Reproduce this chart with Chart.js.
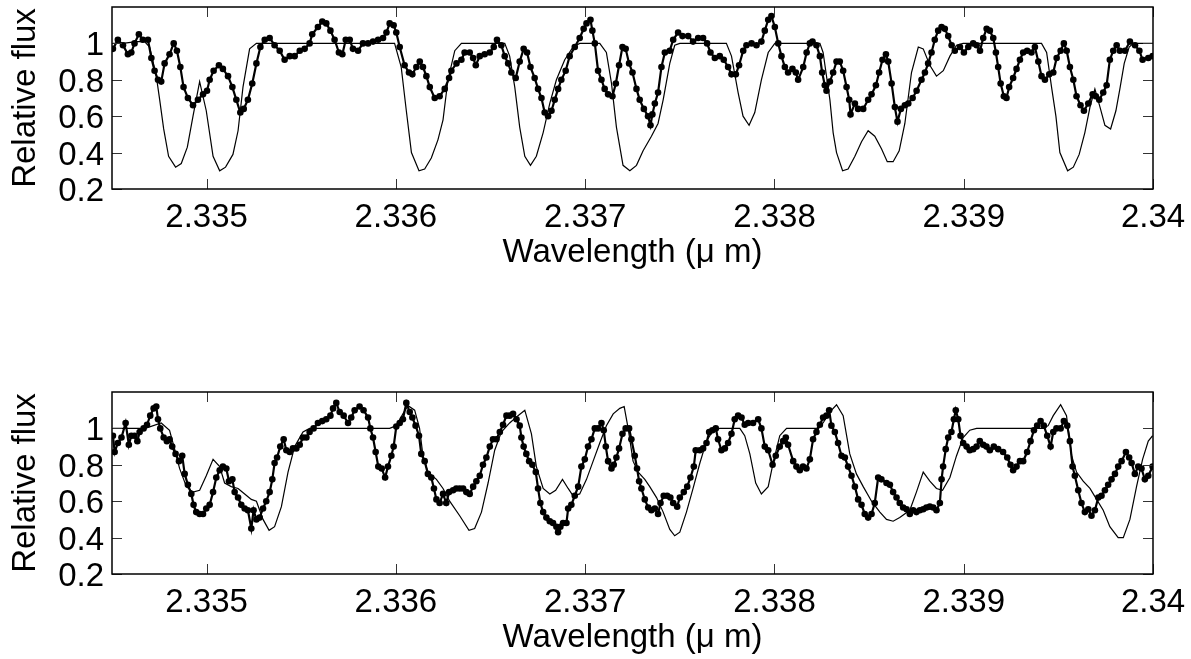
<!DOCTYPE html>
<html>
<head>
<meta charset="utf-8">
<script src="https://cdn.jsdelivr.net/npm/chart.js@4/dist/chart.umd.min.js"></script>
<style>
  html, body { margin: 0; padding: 0; background: #fff; }
  #wrap { position: relative; width: 1191px; height: 659px; }
  canvas { position: absolute; left: 0; }
  #top { top: 0; }
  #bottom { top: 385px; }
</style>
</head>
<body>
<div id="wrap">
  <canvas id="top" width="1191" height="274"></canvas>
  <canvas id="bottom" width="1191" height="274"></canvas>
</div>
<script>
// axis ticks
const xTicks = [2.335, 2.336, 2.337, 2.338, 2.339, 2.34];
const xTickLabels = ['2.335', '2.336', '2.337', '2.338', '2.339', '2.34'];
const yTicks = [0.2, 0.4, 0.6, 0.8, 1];
const yTickLabels = ['0.2', '0.4', '0.6', '0.8', '1'];

// upper panel: observed spectrum
const topObsWave = [
  2.334505, 2.334531, 2.334558, 2.334584, 2.334602, 2.334619, 2.334642, 2.334663, 2.334690, 2.334708,
  2.334725, 2.334743, 2.334760, 2.334778, 2.334804, 2.334826, 2.334843, 2.334861, 2.334878, 2.334901,
  2.334928, 2.334954, 2.334981, 2.335002, 2.335016, 2.335037, 2.335065, 2.335086, 2.335113, 2.335136,
  2.335157, 2.335178, 2.335196, 2.335218, 2.335241, 2.335263, 2.335284, 2.335307, 2.335333, 2.335359,
  2.335386, 2.335412, 2.335439, 2.335465, 2.335492, 2.335518, 2.335544, 2.335558, 2.335588, 2.335611,
  2.335632, 2.335654, 2.335676, 2.335699, 2.335717, 2.335735, 2.335756, 2.335773, 2.335800, 2.335826,
  2.335853, 2.335879, 2.335906, 2.335932, 2.335950, 2.335967, 2.335988, 2.336002, 2.336020, 2.336046,
  2.336069, 2.336087, 2.336108, 2.336126, 2.336143, 2.336161, 2.336179, 2.336205, 2.336231, 2.336258,
  2.336281, 2.336293, 2.336320, 2.336346, 2.336363, 2.336390, 2.336408, 2.336422, 2.336443, 2.336469,
  2.336496, 2.336517, 2.336534, 2.336557, 2.336575, 2.336593, 2.336610, 2.336633, 2.336654, 2.336675,
  2.336693, 2.336711, 2.336733, 2.336751, 2.336769, 2.336786, 2.336804, 2.336822, 2.336839, 2.336857,
  2.336874, 2.336897, 2.336918, 2.336945, 2.336971, 2.336992, 2.337007, 2.337028, 2.337038, 2.337051,
  2.337068, 2.337086, 2.337103, 2.337121, 2.337144, 2.337162, 2.337179, 2.337197, 2.337214, 2.337232,
  2.337250, 2.337271, 2.337288, 2.337310, 2.337332, 2.337345, 2.337355, 2.337368, 2.337385, 2.337403,
  2.337421, 2.337447, 2.337465, 2.337491, 2.337514, 2.337544, 2.337570, 2.337597, 2.337623, 2.337644,
  2.337662, 2.337685, 2.337711, 2.337732, 2.337755, 2.337773, 2.337796, 2.337813, 2.337835, 2.337852,
  2.337879, 2.337905, 2.337931, 2.337949, 2.337967, 2.337984, 2.338002, 2.338020, 2.338037, 2.338055,
  2.338072, 2.338095, 2.338113, 2.338125, 2.338152, 2.338170, 2.338187, 2.338201, 2.338222, 2.338240,
  2.338252, 2.338266, 2.338275, 2.338293, 2.338310, 2.338328, 2.338345, 2.338363, 2.338381, 2.338395,
  2.338402, 2.338425, 2.338442, 2.338469, 2.338495, 2.338513, 2.338536, 2.338553, 2.338571, 2.338589,
  2.338601, 2.338619, 2.338636, 2.338650, 2.338668, 2.338689, 2.338707, 2.338730, 2.338751, 2.338777,
  2.338795, 2.338812, 2.338830, 2.338847, 2.338865, 2.338883, 2.338900, 2.338918, 2.338936, 2.338953,
  2.338980, 2.339001, 2.339024, 2.339050, 2.339068, 2.339086, 2.339103, 2.339121, 2.339138, 2.339156,
  2.339170, 2.339182, 2.339195, 2.339212, 2.339226, 2.339240, 2.339261, 2.339279, 2.339297, 2.339314,
  2.339335, 2.339358, 2.339376, 2.339394, 2.339411, 2.339429, 2.339452, 2.339473, 2.339491, 2.339512,
  2.339529, 2.339544, 2.339561, 2.339579, 2.339596, 2.339617, 2.339635, 2.339658, 2.339681, 2.339698,
  2.339716, 2.339737, 2.339755, 2.339772, 2.339790, 2.339808, 2.339825, 2.339852, 2.339878, 2.339905,
  2.339928, 2.339945, 2.339975, 2.339998
];
const topObsFlux = [
  0.97, 1.02, 0.99, 0.94, 0.95, 1.00, 1.05, 1.02, 1.02, 0.92,
  0.85, 0.80, 0.79, 0.89, 0.94, 1.00, 0.96, 0.87, 0.76, 0.70,
  0.66, 0.69, 0.72, 0.74, 0.80, 0.85, 0.88, 0.86, 0.82, 0.76,
  0.69, 0.62, 0.64, 0.69, 0.78, 0.89, 0.98, 1.02, 1.03, 0.99,
  0.96, 0.91, 0.93, 0.93, 0.96, 0.97, 1.00, 1.05, 1.09, 1.12,
  1.11, 1.07, 1.02, 0.95, 0.94, 1.02, 1.02, 0.97, 0.96, 1.00,
  1.00, 1.01, 1.02, 1.03, 1.06, 1.11, 1.10, 1.06, 0.98, 0.88,
  0.84, 0.83, 0.87, 0.90, 0.87, 0.82, 0.76, 0.70, 0.71, 0.75,
  0.81, 0.85, 0.89, 0.91, 0.95, 0.95, 0.92, 0.88, 0.93, 0.94,
  0.95, 0.98, 1.02, 0.99, 0.93, 0.89, 0.84, 0.81, 0.90, 0.97,
  0.95, 0.87, 0.81, 0.75, 0.70, 0.62, 0.60, 0.63, 0.69, 0.75,
  0.80, 0.85, 0.93, 0.98, 1.03, 1.08, 1.11, 1.13, 1.07, 1.00,
  0.85, 0.80, 0.75, 0.72, 0.71, 0.78, 0.88, 0.98, 0.97, 0.89,
  0.84, 0.75, 0.69, 0.64, 0.60, 0.55, 0.61, 0.67, 0.73, 0.87,
  0.95, 0.96, 1.02, 1.06, 1.04, 1.04, 1.01, 1.03, 1.03, 1.00,
  0.95, 0.92, 0.93, 0.91, 0.87, 0.83, 0.83, 0.88, 0.96, 0.99,
  1.00, 0.99, 1.01, 1.07, 1.13, 1.15, 1.09, 1.00, 0.93, 0.87,
  0.84, 0.86, 0.84, 0.80, 0.87, 0.95, 1.00, 1.01, 0.99, 0.93,
  0.84, 0.77, 0.74, 0.79, 0.84, 0.90, 0.90, 0.85, 0.76, 0.69,
  0.61, 0.67, 0.64, 0.64, 0.69, 0.72, 0.77, 0.84, 0.91, 0.94,
  0.90, 0.78, 0.65, 0.57, 0.64, 0.66, 0.67, 0.70, 0.74, 0.80,
  0.84, 0.89, 0.95, 1.02, 1.07, 1.09, 1.08, 1.04, 0.99, 0.96,
  0.98, 0.95, 0.98, 1.00, 0.99, 0.96, 1.03, 1.08, 1.07, 1.03,
  0.95, 0.87, 0.78, 0.71, 0.70, 0.76, 0.81, 0.86, 0.91, 0.95,
  0.96, 0.95, 0.98, 0.90, 0.82, 0.80, 0.83, 0.84, 0.92, 0.96,
  1.00, 0.96, 0.87, 0.80, 0.71, 0.66, 0.63, 0.67, 0.72, 0.71,
  0.69, 0.73, 0.77, 0.91, 0.96, 0.99, 0.96, 0.96, 1.01, 0.99,
  0.96, 0.91, 0.92, 0.93
];

// upper panel: model spectrum
const topModelWave = [
  2.334505, 2.334558, 2.334628, 2.334672, 2.334699, 2.334734, 2.334752, 2.334773, 2.334799, 2.334836,
  2.334866, 2.334898, 2.334928, 2.334963, 2.334998, 2.335034, 2.335069, 2.335100, 2.335139, 2.335166,
  2.335192, 2.335227, 2.335263, 2.335993, 2.336028, 2.336055, 2.336082, 2.336122, 2.336152, 2.336187,
  2.336222, 2.336249, 2.336275, 2.336311, 2.336346, 2.336575, 2.336601, 2.336628, 2.336654, 2.336681,
  2.336711, 2.336742, 2.336778, 2.336813, 2.336848, 2.336892, 2.336936, 2.336971, 2.337077, 2.337112,
  2.337139, 2.337165, 2.337200, 2.337236, 2.337271, 2.337306, 2.337350, 2.337385, 2.337412, 2.337447,
  2.337473, 2.337500, 2.337746, 2.337773, 2.337808, 2.337834, 2.337866, 2.337896, 2.337931, 2.337967,
  2.338002, 2.338240, 2.338257, 2.338293, 2.338310, 2.338328, 2.338360, 2.338389, 2.338425, 2.338460,
  2.338495, 2.338530, 2.338566, 2.338596, 2.338627, 2.338659, 2.338689, 2.338724, 2.338760, 2.338786,
  2.338821, 2.338856, 2.338892, 2.338927, 2.338962, 2.338997, 2.339411, 2.339438, 2.339464, 2.339487,
  2.339508, 2.339549, 2.339579, 2.339610, 2.339640, 2.339667, 2.339693, 2.339720, 2.339746, 2.339776,
  2.339804, 2.339825, 2.339848, 2.339874, 2.339896, 2.340000
];
const topModelFlux = [
  1.00, 1.00, 1.01, 1.01, 0.98, 0.82, 0.69, 0.53, 0.38, 0.32,
  0.34, 0.43, 0.60, 0.79, 0.63, 0.38, 0.30, 0.32, 0.39, 0.52,
  0.76, 0.97, 1.00, 1.00, 0.87, 0.63, 0.40, 0.30, 0.31, 0.37,
  0.47, 0.58, 0.80, 0.96, 1.00, 1.00, 0.93, 0.76, 0.54, 0.38,
  0.33, 0.38, 0.51, 0.67, 0.80, 0.91, 0.98, 1.00, 1.00, 0.95,
  0.78, 0.54, 0.33, 0.30, 0.33, 0.41, 0.49, 0.56, 0.69, 0.89,
  0.99, 1.00, 1.00, 0.93, 0.73, 0.60, 0.55, 0.62, 0.80, 0.95,
  1.00, 1.00, 0.95, 0.69, 0.51, 0.40, 0.30, 0.31, 0.38, 0.46,
  0.52, 0.49, 0.42, 0.35, 0.35, 0.41, 0.56, 0.84, 0.98, 0.97,
  0.88, 0.82, 0.85, 0.93, 0.99, 1.00, 1.00, 0.95, 0.76, 0.60,
  0.40, 0.30, 0.32, 0.39, 0.51, 0.65, 0.75, 0.65, 0.55, 0.53,
  0.63, 0.75, 0.89, 0.98, 1.00, 1.00
];

// lower panel: observed spectrum
const botObsWave = [
  2.334505, 2.334514, 2.334531, 2.334550, 2.334572, 2.334589, 2.334602, 2.334619, 2.334634, 2.334646,
  2.334667, 2.334685, 2.334702, 2.334720, 2.334734, 2.334743, 2.334755, 2.334773, 2.334790, 2.334804,
  2.334818, 2.334836, 2.334854, 2.334871, 2.334884, 2.334901, 2.334919, 2.334931, 2.334945, 2.334963,
  2.334981, 2.334998, 2.335016, 2.335034, 2.335051, 2.335069, 2.335086, 2.335104, 2.335118, 2.335136,
  2.335148, 2.335166, 2.335183, 2.335201, 2.335218, 2.335236, 2.335248, 2.335263, 2.335280, 2.335298,
  2.335315, 2.335333, 2.335347, 2.335359, 2.335372, 2.335389, 2.335407, 2.335421, 2.335439, 2.335456,
  2.335474, 2.335492, 2.335509, 2.335527, 2.335544, 2.335565, 2.335588, 2.335611, 2.335632, 2.335654,
  2.335668, 2.335685, 2.335703, 2.335724, 2.335747, 2.335764, 2.335782, 2.335808, 2.335829, 2.335853,
  2.335865, 2.335879, 2.335893, 2.335907, 2.335925, 2.335943, 2.335958, 2.335976, 2.335988, 2.336002,
  2.336020, 2.336037, 2.336055, 2.336073, 2.336087, 2.336104, 2.336122, 2.336134, 2.336152, 2.336169,
  2.336187, 2.336201, 2.336214, 2.336231, 2.336249, 2.336266, 2.336281, 2.336302, 2.336319, 2.336337,
  2.336355, 2.336372, 2.336390, 2.336408, 2.336425, 2.336443, 2.336460, 2.336478, 2.336496, 2.336513,
  2.336531, 2.336549, 2.336566, 2.336584, 2.336601, 2.336619, 2.336637, 2.336654, 2.336663, 2.336675,
  2.336689, 2.336704, 2.336721, 2.336739, 2.336751, 2.336763, 2.336778, 2.336795, 2.336813, 2.336830,
  2.336848, 2.336857, 2.336869, 2.336883, 2.336901, 2.336910, 2.336927, 2.336945, 2.336963, 2.336980,
  2.336998, 2.337015, 2.337033, 2.337051, 2.337068, 2.337086, 2.337098, 2.337109, 2.337121, 2.337139,
  2.337151, 2.337165, 2.337179, 2.337197, 2.337214, 2.337232, 2.337244, 2.337262, 2.337274, 2.337285,
  2.337297, 2.337315, 2.337333, 2.337350, 2.337368, 2.337385, 2.337398, 2.337415, 2.337433, 2.337450,
  2.337465, 2.337486, 2.337500, 2.337521, 2.337539, 2.337556, 2.337574, 2.337584, 2.337606, 2.337623,
  2.337641, 2.337655, 2.337672, 2.337690, 2.337702, 2.337720, 2.337738, 2.337755, 2.337773, 2.337790,
  2.337808, 2.337826, 2.337843, 2.337861, 2.337887, 2.337914, 2.337931, 2.337949, 2.337967, 2.337990,
  2.338007, 2.338028, 2.338046, 2.338060, 2.338072, 2.338099, 2.338116, 2.338134, 2.338151, 2.338169,
  2.338187, 2.338204, 2.338222, 2.338240, 2.338257, 2.338275, 2.338289, 2.338301, 2.338319, 2.338336,
  2.338354, 2.338372, 2.338389, 2.338407, 2.338425, 2.338442, 2.338460, 2.338477, 2.338495, 2.338513,
  2.338530, 2.338548, 2.338565, 2.338592, 2.338610, 2.338627, 2.338645, 2.338662, 2.338680, 2.338698,
  2.338715, 2.338733, 2.338750, 2.338768, 2.338786, 2.338803, 2.338821, 2.338839, 2.338856, 2.338874,
  2.338883, 2.338891, 2.338905, 2.338918, 2.338935, 2.338948, 2.338958, 2.338971, 2.338983, 2.338997,
  2.339015, 2.339032, 2.339050, 2.339068, 2.339085, 2.339103, 2.339120, 2.339138, 2.339159, 2.339182,
  2.339208, 2.339230, 2.339247, 2.339261, 2.339279, 2.339297, 2.339314, 2.339335, 2.339353, 2.339371,
  2.339388, 2.339406, 2.339423, 2.339441, 2.339459, 2.339473, 2.339490, 2.339512, 2.339529, 2.339547,
  2.339561, 2.339575, 2.339587, 2.339605, 2.339622, 2.339640, 2.339658, 2.339675, 2.339693, 2.339711,
  2.339728, 2.339746, 2.339763, 2.339781, 2.339799, 2.339816, 2.339834, 2.339857, 2.339874, 2.339887,
  2.339904, 2.339922, 2.339939, 2.339957, 2.339975, 2.339998
];
const botObsFlux = [
  0.96, 0.87, 0.92, 0.95, 1.03, 0.91, 0.96, 0.96, 0.93, 0.98,
  1.00, 1.02, 1.07, 1.11, 1.12, 1.05, 1.00, 0.95, 0.93, 0.94,
  0.90, 0.86, 0.82, 0.85, 0.75, 0.69, 0.64, 0.58, 0.54, 0.53,
  0.53, 0.56, 0.58, 0.65, 0.73, 0.77, 0.79, 0.78, 0.71, 0.72,
  0.65, 0.62, 0.58, 0.56, 0.55, 0.45, 0.55, 0.50, 0.51, 0.56,
  0.60, 0.65, 0.72, 0.81, 0.84, 0.90, 0.94, 0.88, 0.87, 0.89,
  0.89, 0.91, 0.95, 0.95, 0.98, 1.00, 1.03, 1.04, 1.05, 1.07,
  1.11, 1.14, 1.09, 1.07, 1.03, 1.06, 1.10, 1.12, 1.10, 1.06,
  1.00, 0.95, 0.87, 0.79, 0.78, 0.73, 0.79, 0.85, 0.90, 1.01,
  1.03, 1.05, 1.14, 1.09, 1.06, 1.015, 0.96, 0.86, 0.82, 0.75,
  0.73, 0.67, 0.61, 0.59, 0.64, 0.59, 0.65, 0.66, 0.67, 0.67,
  0.67, 0.65, 0.64, 0.68, 0.71, 0.74, 0.80, 0.84, 0.90, 0.94,
  0.94, 0.98, 1.02, 1.07, 1.07, 1.08, 1.05, 1.015, 0.95, 0.90,
  0.86, 0.82, 0.80, 0.76, 0.67, 0.59, 0.54, 0.51, 0.49, 0.48,
  0.46, 0.43, 0.46, 0.48, 0.48, 0.56, 0.58, 0.63, 0.68, 0.79,
  0.83, 0.90, 0.94, 1.00, 1.00, 1.03, 0.99, 0.90, 0.82, 0.78,
  0.80, 0.84, 0.89, 0.97, 1.00, 1.00, 0.94, 0.85, 0.78, 0.71,
  0.67, 0.61, 0.565, 0.55, 0.56, 0.53, 0.59, 0.63, 0.63, 0.62,
  0.59, 0.57, 0.62, 0.65, 0.68, 0.73, 0.79, 0.88, 0.88, 0.89,
  0.92, 0.98, 0.99, 1.00, 0.94, 0.88, 0.89, 0.92, 0.97, 1.05,
  1.07, 1.06, 1.02, 1.03, 1.03, 1.05, 1.00, 0.90, 0.88, 0.80,
  0.85, 0.90, 0.93, 0.95, 0.91, 0.82, 0.79, 0.77, 0.79, 0.78,
  0.83, 0.94, 0.98, 1.02, 1.06, 1.07, 1.10, 1.015, 0.98, 0.92,
  0.85, 0.84, 0.79, 0.74, 0.68, 0.61, 0.58, 0.53, 0.51, 0.53,
  0.59, 0.73, 0.72, 0.70, 0.69, 0.65, 0.62, 0.59, 0.565, 0.556,
  0.53, 0.55, 0.54, 0.55, 0.556, 0.565, 0.57, 0.565, 0.55, 0.59,
  0.72, 0.79, 0.886, 0.95, 0.98, 1.05, 1.10, 1.05, 0.96, 0.92,
  0.90, 0.88, 0.886, 0.90, 0.93, 0.91, 0.90, 0.88, 0.90, 0.886,
  0.87, 0.84, 0.80, 0.77, 0.79, 0.82, 0.82, 0.87, 0.93, 0.99,
  1.015, 1.04, 1.015, 0.96, 0.90, 0.98, 1.00, 1.00, 1.04, 1.015,
  0.93, 0.79, 0.74, 0.66, 0.59, 0.54, 0.556, 0.52, 0.55, 0.62,
  0.63, 0.66, 0.69, 0.72, 0.75, 0.79, 0.82, 0.87, 0.84, 0.81,
  0.75, 0.79, 0.78, 0.72, 0.74, 0.79
];

// lower panel: model spectrum
const botModelWave = [
  2.334505, 2.334676, 2.334760, 2.334804, 2.334831, 2.334857, 2.334893, 2.334928, 2.334963, 2.334998,
  2.335034, 2.335069, 2.335095, 2.335130, 2.335166, 2.335201, 2.335236, 2.335263, 2.335298, 2.335330,
  2.335359, 2.335395, 2.335430, 2.335465, 2.335509, 2.335544, 2.335967, 2.336002, 2.336037, 2.336064,
  2.336099, 2.336125, 2.336143, 2.336169, 2.336214, 2.336249, 2.336284, 2.336337, 2.336386, 2.336416,
  2.336452, 2.336487, 2.336522, 2.336557, 2.336601, 2.336645, 2.336681, 2.336716, 2.336742, 2.336778,
  2.336813, 2.336844, 2.336880, 2.336910, 2.336936, 2.336971, 2.337007, 2.337042, 2.337077, 2.337112,
  2.337148, 2.337183, 2.337206, 2.337227, 2.337253, 2.337280, 2.337315, 2.337341, 2.337377, 2.337412,
  2.337447, 2.337473, 2.337500, 2.337535, 2.337570, 2.337606, 2.337641, 2.337676, 2.337711, 2.337817,
  2.337843, 2.337870, 2.337901, 2.337931, 2.337967, 2.337993, 2.338028, 2.338064, 2.338222, 2.338257,
  2.338292, 2.338328, 2.338363, 2.338398, 2.338433, 2.338469, 2.338513, 2.338557, 2.338592, 2.338627,
  2.338662, 2.338715, 2.338750, 2.338786, 2.338821, 2.338856, 2.338888, 2.338927, 2.338962, 2.338997,
  2.339032, 2.339068, 2.339420, 2.339446, 2.339473, 2.339512, 2.339543, 2.339570, 2.339596, 2.339631,
  2.339667, 2.339702, 2.339737, 2.339772, 2.339816, 2.339843, 2.339878, 2.339913, 2.339945, 2.339975,
  2.339998
];
const botModelFlux = [
  1.00, 1.00, 1.03, 0.99, 0.886, 0.78, 0.68, 0.65, 0.66, 0.74,
  0.83, 0.79, 0.70, 0.68, 0.67, 0.64, 0.61, 0.60, 0.50, 0.44,
  0.46, 0.57, 0.76, 0.90, 0.98, 1.00, 1.00, 1.015, 1.08, 1.125,
  1.10, 1.00, 0.85, 0.76, 0.72, 0.67, 0.60, 0.52, 0.44, 0.45,
  0.54, 0.70, 0.88, 0.98, 1.03, 1.07, 1.10, 0.97, 0.79, 0.67,
  0.64, 0.66, 0.72, 0.67, 0.63, 0.64, 0.72, 0.82, 0.92, 1.015,
  1.08, 1.11, 1.12, 1.00, 0.82, 0.76, 0.72, 0.68, 0.62, 0.54,
  0.445, 0.41, 0.43, 0.54, 0.67, 0.81, 0.93, 0.99, 1.00, 1.00,
  0.96, 0.86, 0.70, 0.64, 0.68, 0.81, 0.96, 1.00, 1.00, 1.03,
  1.09, 1.13, 1.07, 0.86, 0.75, 0.68, 0.60, 0.54, 0.50, 0.49,
  0.51, 0.55, 0.65, 0.76, 0.71, 0.67, 0.66, 0.73, 0.85, 0.95,
  0.99, 1.00, 1.00, 1.015, 1.07, 1.13, 1.07, 0.85, 0.76, 0.71,
  0.67, 0.61, 0.55, 0.46, 0.40, 0.40, 0.50, 0.68, 0.83, 0.93,
  0.96
];

const FONT = { family: 'Liberation Sans, Arial, sans-serif', size: 33 };

function pairs(xs, ys) {
    return xs.map((x, i) => ({ x: x, y: ys[i] }));
}

// box around the plot area with inward tick marks on all four sides
const frameBox = {
    id: 'frameBox',
    afterDatasetsDraw(chart) {
        const { ctx, chartArea: a, scales } = chart;
        ctx.save();
        ctx.strokeStyle = '#333';
        ctx.lineWidth = 1;
        ctx.beginPath();
        xTicks.forEach(v => {
            const px = Math.round(scales.x.getPixelForValue(v)) + 0.5;
            ctx.moveTo(px, a.bottom); ctx.lineTo(px, a.bottom - 10);
            ctx.moveTo(px, a.top); ctx.lineTo(px, a.top + 10);
        });
        yTicks.forEach(v => {
            const py = Math.round(scales.y.getPixelForValue(v)) + 0.5;
            ctx.moveTo(a.left, py); ctx.lineTo(a.left + 10, py);
            ctx.moveTo(a.right, py); ctx.lineTo(a.right - 10, py);
        });
        ctx.stroke();
        ctx.strokeStyle = '#000';
        ctx.lineWidth = 1.5;
        ctx.strokeRect(a.left, a.top, a.right - a.left, a.bottom - a.top);
        ctx.restore();
    }
};

function spectrumPanel(canvasId, obsWave, obsFlux, modelWave, modelFlux) {
    new Chart(
        document.getElementById(canvasId).getContext('2d'),
        {
            type: 'line',
            data: {
                datasets: [{
                    data: pairs(obsWave, obsFlux),
                    borderColor: '#000',
                    backgroundColor: '#000',
                    borderWidth: 2.2,
                    pointRadius: 3.3,
                    pointBorderWidth: 0,
                    pointBackgroundColor: '#000',
                    tension: 0
                }, {
                    data: pairs(modelWave, modelFlux),
                    borderColor: '#000',
                    borderWidth: 1.2,
                    pointRadius: 0,
                    tension: 0
                }]
            },
            options: {
                responsive: false,
                animation: false,
                devicePixelRatio: 1,
                layout: { padding: { top: 7, right: 38, bottom: 0, left: 0 } },
                plugins: {
                    legend: { display: false },
                    tooltip: { enabled: false }
                },
                scales: {
                    x: {
                        type: 'linear',
                        min: 2.3345,
                        max: 2.34,
                        grid: { display: false, drawTicks: false },
                        border: { display: false },
                        afterBuildTicks: s => { s.ticks = xTicks.map(v => ({ value: v })); },
                        afterFit: s => {
                            s.height = 85;
                            s.paddingLeft = 0;
                            s.paddingRight = 0;
                        },
                        ticks: {
                            color: '#000',
                            font: FONT,
                            padding: 9,
                            maxRotation: 0,
                            autoSkip: false,
                            callback: (v, i) => xTickLabels[i]
                        },
                        title: {
                            display: true,
                            text: 'Wavelength (μ m)',
                            color: '#000',
                            font: FONT,
                            padding: { top: 0, bottom: 1 }
                        }
                    },
                    y: {
                        min: 0.2,
                        max: 1.2,
                        grid: { display: false, drawTicks: false },
                        border: { display: false },
                        afterBuildTicks: s => { s.ticks = yTicks.map(v => ({ value: v })); },
                        afterFit: s => {
                            s.width = 112;
                            s.paddingTop = 0;
                            s.paddingBottom = 0;
                        },
                        ticks: {
                            color: '#000',
                            font: FONT,
                            padding: 8,
                            labelOffset: 3,
                            autoSkip: false,
                            callback: (v, i) => yTickLabels[i]
                        },
                        title: {
                            display: true,
                            text: 'Relative flux',
                            color: '#000',
                            font: FONT,
                            padding: { top: 6, bottom: 0 }
                        }
                    }
                }
            },
            plugins: [frameBox]
        }
    );
}

spectrumPanel('top', topObsWave, topObsFlux, topModelWave, topModelFlux);
spectrumPanel('bottom', botObsWave, botObsFlux, botModelWave, botModelFlux);
</script>
</body>
</html>
